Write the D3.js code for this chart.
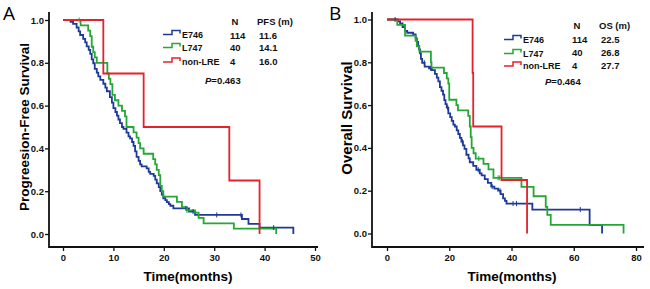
<!DOCTYPE html>
<html>
<head>
<meta charset="utf-8">
<script src="https://cdn.jsdelivr.net/npm/d3@7"></script>
<style>
  body { margin: 0; background: #fff; }
  svg { display: block; font-family: "Liberation Sans", Arial, sans-serif; }
  .tick text { font-weight: bold; font-size: 9.5px; fill: #111; }
</style>
</head>
<body>
<div id="chart"></div>
<script>
// ---- data (months, survival) ----
const groups = ["E746", "L747", "non-LRE"];
const groupN = ["114", "40", "4"];
const pfsMedian = ["11.6", "14.1", "16.0"];
const osMedian = ["22.5", "26.8", "27.7"];

const pfsE746 = [[0,1],[1.5,0.991],[2,0.982],[2.7,0.965],[3.1,0.947],[3.4,0.93],[4,0.912],[4.4,0.895],[4.7,0.877],
  [5.1,0.86],[5.4,0.842],[5.7,0.816],[6,0.798],[6.3,0.772],[6.7,0.754],[7,0.737],[7.4,0.72],[8,0.702],[8.4,0.684],
  [8.7,0.667],[9.3,0.64],[9.7,0.614],[10,0.588],[10.4,0.57],[10.7,0.553],[11,0.535],[11.3,0.518],[11.7,0.5],
  [12,0.491],[12.6,0.474],[13,0.456],[13.3,0.447],[13.7,0.43],[14,0.412],[14.3,0.386],[14.6,0.36],[15,0.342],
  [15.3,0.325],[15.6,0.316],[16.6,0.307],[17,0.29],[17.3,0.281],[18,0.272],[18.3,0.254],[18.6,0.237],[19,0.219],
  [19.3,0.2],[19.6,0.184],[19.9,0.167],[20.3,0.158],[20.6,0.149],[21,0.14],[21.3,0.132],[21.9,0.12],[25.0,0.105],
  [26.2,0.089],[35.5,0.07],[36.8,0.047],[39.0,0.03],[45.7,0]];
const pfsL747 = [[0,1],[3.5,0.975],[5.0,0.95],[5.4,0.925],[5.7,0.875],[6.0,0.85],[6.3,0.825],[6.7,0.8],[8.8,0.75],
  [9.1,0.725],[9.4,0.7],[9.8,0.65],[10.3,0.625],[11.0,0.6],[11.7,0.575],[12.3,0.55],[12.6,0.5],[14.0,0.475],
  [14.6,0.45],[15.0,0.425],[15.3,0.4],[16.0,0.375],[17.9,0.35],[18.3,0.325],[18.6,0.3],[19.0,0.275],[19.3,0.225],
  [19.6,0.2],[19.9,0.175],[22.6,0.15],[23.6,0.125],[24.6,0.11],[26.2,0.1],[26.9,0.075],[27.9,0.05],[33.9,0.025],[42.3,0]];
const pfsNonLRE = [[0,1],[8,0.75],[16,0.5],[33,0.25],[39,0]];
const pfsE746Cens = [24.4, 25.8, 30.5, 35.3, 41.8];
const pfsL747Cens = [3.2, 24.6];

const osE746 = [[0,1],[3.5,0.991],[4.2,0.982],[5,0.965],[5.8,0.947],[6.5,0.938],[8.4,0.93],[9.2,0.912],[9.6,0.895],
  [10,0.877],[10.3,0.86],[10.6,0.842],[10.9,0.816],[11.3,0.798],[12.1,0.78],[13.5,0.772],[14.4,0.763],[15.4,0.746],
  [16,0.728],[16.5,0.711],[17,0.684],[17.5,0.667],[18,0.649],[18.4,0.623],[18.8,0.605],[19.2,0.588],[19.7,0.561],
  [20.3,0.544],[20.8,0.526],[21.3,0.509],[21.8,0.5],[22.4,0.482],[22.9,0.465],[23.4,0.447],[23.9,0.43],[24.4,0.412],
  [24.9,0.395],[25.5,0.368],[26.2,0.351],[26.6,0.333],[27.7,0.316],[28.7,0.298],[29.8,0.281],[30.4,0.272],[31.4,0.254],
  [32.4,0.237],[33.5,0.219],[34.5,0.21],[35.7,0.2],[36.5,0.184],[37.3,0.164],[37.9,0.152],[38.4,0.14],[46.7,0.112],
  [65.1,0.039],[69.1,0]];
const osL747 = [[0,1],[3.3,0.975],[5.8,0.925],[9.2,0.9],[9.6,0.875],[10.4,0.85],[14.1,0.8],[14.3,0.775],[18.3,0.75],
  [19.2,0.725],[19.7,0.7],[20.0,0.625],[22.3,0.6],[22.8,0.575],[26.1,0.55],[26.6,0.5],[26.9,0.45],[27.2,0.4],
  [27.8,0.375],[28.5,0.35],[31.0,0.325],[32.6,0.3],[34.2,0.26],[43.2,0.218],[47.1,0.174],[51.0,0.124],[51.5,0.087],
  [52.6,0.04],[76,0]];
const osNonLRE = [[0,1],[27.5,0.75],[27.7,0.5],[36.8,0.25],[45,0]];
const osE746Cens = [2.6, 12, 14, 19.5, 24.2, 29.3, 33.8, 36.3, 40.5, 41.6, 62.1];
const osL747Cens = [9.5, 29.5, 35.7, 36.2];

const yTicks = [0, 0.2, 0.4, 0.6, 0.8, 1.0];
const pfsXTicks = [0, 10, 20, 30, 40, 50];
const osXTicks = [0, 20, 40, 60, 80];

const colors = ["#1d3a98", "#25a635", "#e5222b"];

// ---- drawing ----
const width = 650, height = 289;
const svg = d3.select("#chart").append("svg")
    .attr("width", width)
    .attr("height", height);

function survAt(curve, t) {
    let s = 1;
    curve.forEach(p => { if (p[0] <= t) s = p[1]; });
    return s;
}

function drawPanel(p) {
    const g = svg.append("g");
    const x = d3.scaleLinear().domain(p.xDomain).range(p.xRange);
    const y = d3.scaleLinear().domain([0, 1]).range(p.yRange);

    // axes
    const yAxis = g.append("g")
        .attr("transform", `translate(${p.axisX},0)`)
        .call(d3.axisLeft(y).tickValues(yTicks).tickFormat(d3.format(".1f")).tickSize(4).tickPadding(1));
    yAxis.select(".domain").remove();
    const xAxis = g.append("g")
        .attr("transform", `translate(0,${p.axisY})`)
        .call(d3.axisBottom(x).tickValues(p.xTicks).tickFormat(d3.format("d")).tickSize(4).tickPadding(3));
    xAxis.select(".domain").remove();
    g.selectAll(".tick line").attr("stroke", "#111").attr("stroke-width", 1.3);

    g.append("path")
        .attr("d", `M${p.axisX},${p.axisTop}V${p.axisY}H${p.axisRight}`)
        .attr("fill", "none")
        .attr("stroke", "#111")
        .attr("stroke-width", 1.8);

    // curves
    const line = d3.line()
        .x(d => x(d[0]))
        .y(d => y(d[1]))
        .curve(d3.curveStepAfter);

    p.curves.forEach((c, i) => {
        g.append("path")
            .attr("d", line(c))
            .attr("fill", "none")
            .attr("stroke", colors[i])
            .attr("stroke-width", 1.8);
    });

    p.censors.forEach((cens, i) => {
        g.selectAll(null)
            .data(cens)
            .enter()
            .append("line")
            .attr("x1", d => x(d))
            .attr("x2", d => x(d))
            .attr("y1", d => y(survAt(p.curves[i], d)) - 2.5)
            .attr("y2", d => y(survAt(p.curves[i], d)) + 2.5)
            .attr("stroke", colors[i])
            .attr("stroke-width", 1);
    });

    // titles
    g.append("text")
        .attr("x", p.panelX)
        .attr("y", 20)
        .attr("font-family", "'Open Sans', sans-serif")
        .attr("font-size", 19)
        .text(p.letter);

    g.append("text")
        .attr("transform", `translate(${p.yTitleX},${p.yTitleY}) rotate(-90)`)
        .attr("text-anchor", "middle")
        .attr("font-weight", "bold")
        .attr("font-size", p.yTitleSize)
        .text(p.yTitle);

    g.append("text")
        .attr("x", p.xTitleX)
        .attr("y", 281)
        .attr("text-anchor", "middle")
        .attr("font-weight", "bold")
        .attr("font-size", 13.5)
        .text("Time(months)");

    // legend
    const lg = g.append("g").attr("font-size", 9.5).attr("font-weight", "bold").attr("fill", "#111");
    lg.append("text").attr("x", p.nX + 5).attr("y", p.headY).attr("text-anchor", "middle").text("N");
    lg.append("text").attr("x", p.medX - 2).attr("y", p.headY).text(p.medTitle);

    groups.forEach((name, i) => {
        const by = p.iconY[i];
        lg.append("path")
            .attr("d", `M${p.iconX},${by}H${p.iconX + 9}V${by - 4}H${p.iconX + 17}V${by - 1}`)
            .attr("fill", "none")
            .attr("stroke", colors[i])
            .attr("stroke-width", 1.5);
        lg.append("text").attr("x", p.iconX + 19).attr("y", by + 3).attr("font-size", 9).text(name);
        lg.append("text").attr("x", p.nX).attr("y", p.rowY[i]).text(groupN[i]);
        lg.append("text").attr("x", p.medX).attr("y", p.rowY[i]).text(p.medians[i]);
    });

    const pt = lg.append("text").attr("x", p.pX).attr("y", p.pY);
    pt.append("tspan").attr("font-style", "italic").text("P");
    pt.append("tspan").text(p.pValue);
}

drawPanel({
    letter: "A", panelX: 3,
    xDomain: [0, 50], xRange: [63, 315], yRange: [234, 20],
    axisX: 49, axisY: 247, axisTop: 12, axisRight: 318,
    xTicks: pfsXTicks,
    curves: [pfsE746, pfsL747, pfsNonLRE],
    censors: [pfsE746Cens, pfsL747Cens, []],
    yTitle: "Progreesion-Free Survival", yTitleX: 29, yTitleY: 127, yTitleSize: 13.5,
    xTitleX: 188,
    headY: 25, nX: 230, medX: 259, medTitle: "PFS (m)", medians: pfsMedian,
    iconX: 163, iconY: [34.5, 47.5, 62], rowY: [38.5, 51, 65],
    pX: 205, pY: 83.5, pValue: "=0.463"
});

drawPanel({
    letter: "B", panelX: 329,
    xDomain: [0, 80], xRange: [387, 636], yRange: [233.5, 19.5],
    axisX: 372, axisY: 247, axisTop: 12, axisRight: 644,
    xTicks: osXTicks,
    curves: [osE746, osL747, osNonLRE],
    censors: [osE746Cens, osL747Cens, []],
    yTitle: "Overall Survival", yTitleX: 352, yTitleY: 118, yTitleSize: 15,
    xTitleX: 512,
    headY: 28.5, nX: 572, medX: 601, medTitle: "OS (m)", medians: osMedian,
    iconX: 504, iconY: [39.5, 53.5, 66], rowY: [43, 55.5, 68.5],
    pX: 545, pY: 85, pValue: "=0.464"
});
</script>
</body>
</html>
